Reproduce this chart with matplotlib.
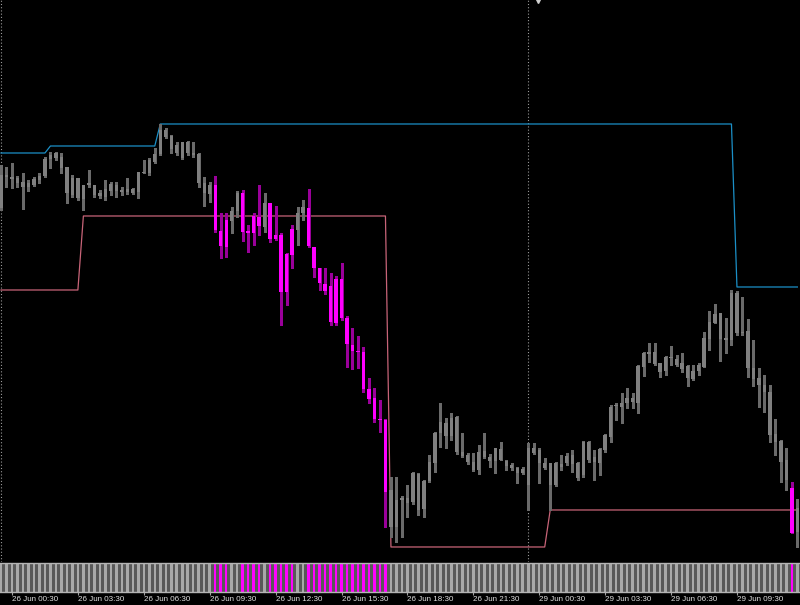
import numpy as np
import matplotlib.pyplot as plt

# price levels in points (15 min candles, 26 Jun 00:00 .. 29 Jun 12:15)
HIGH = [435, 433, 437, 424, 427, 420, 423, 427, 443, 448,
        448, 447, 433, 425, 422, 415, 430, 415, 410, 420,
        418, 418, 413, 422, 412, 428, 440, 442, 452, 476,
        472, 465, 458, 458, 459, 458, 447, 423, 418, 424,
        387, 387, 393, 409, 410, 375, 387, 415, 407, 397,
        394, 367, 347, 375, 393, 400, 411, 353, 332, 332,
        327, 324, 337, 284, 272, 264, 253, 222, 212, 200,
        181, 123, 123, 104, 115, 128, 127, 120, 145, 168,
        197, 182, 187, 184, 167, 147, 147, 155, 167, 146,
        152, 158, 140, 137, 133, 133, 157, 157, 152, 142,
        137, 138, 145, 147, 150, 138, 159, 159, 150, 152,
        166, 195, 197, 207, 212, 207, 235, 248, 257, 257,
        237, 244, 254, 245, 247, 235, 235, 237, 268, 289,
        296, 287, 282, 310, 309, 303, 281, 260, 232, 225,
        215, 181, 160, 152, 118, 101]
LOW = [390, 413, 412, 413, 391, 409, 414, 417, 423, 432,
       440, 427, 397, 403, 400, 390, 413, 403, 402, 400,
       405, 403, 405, 406, 406, 402, 427, 425, 437, 445,
       462, 447, 445, 441, 445, 443, 413, 394, 398, 368,
       342, 343, 367, 383, 359, 348, 355, 365, 368, 358,
       360, 275, 295, 332, 355, 380, 353, 323, 310, 306,
       275, 275, 280, 233, 231, 232, 208, 197, 178, 168,
       73, 63, 58, 63, 83, 96, 85, 83, 118, 128,
       153, 152, 160, 146, 143, 136, 129, 126, 142, 133,
       127, 140, 130, 130, 117, 126, 90, 146, 117, 131,
       90, 114, 130, 135, 128, 120, 123, 138, 120, 125,
       148, 158, 180, 177, 192, 192, 187, 224, 238, 235,
       223, 225, 235, 234, 228, 214, 220, 225, 233, 250,
       277, 239, 247, 255, 265, 265, 223, 214, 193, 188,
       158, 145, 118, 110, 67, 53]
BODY_TOP = [425, 425, 423, 422, 418, 417, 421, 424, 441, 445,
            447, 443, 433, 422, 422, 415, 417, 415, 407, 411,
            416, 415, 410, 411, 411, 428, 428, 440, 446, 470,
            470, 464, 455, 458, 458, 447, 446, 417, 415, 415,
            369, 380, 389, 407, 407, 369, 384, 383, 397, 397,
            365, 365, 346, 371, 387, 393, 392, 353, 332, 316,
            314, 321, 321, 282, 255, 249, 248, 211, 202, 181,
            180, 110, 100, 102, 102, 127, 126, 119, 138, 167,
            178, 177, 182, 183, 148, 145, 138, 148, 149, 143,
            152, 151, 139, 135, 132, 131, 152, 152, 150, 137,
            137, 137, 136, 144, 145, 137, 158, 158, 143, 151,
            165, 193, 195, 197, 202, 202, 234, 247, 248, 248,
            237, 243, 243, 241, 237, 234, 229, 235, 262, 278,
            286, 287, 262, 307, 307, 268, 269, 232, 222, 215,
            208, 166, 159, 140, 112, 92]
BODY_BOT = [392, 423, 421, 417, 413, 413, 415, 420, 424, 441,
            442, 432, 407, 405, 402, 401, 415, 405, 404, 403,
            409, 409, 408, 408, 407, 408, 427, 427, 438, 446,
            463, 451, 447, 442, 447, 445, 417, 407, 406, 370,
            354, 353, 379, 389, 368, 367, 367, 374, 373, 361,
            361, 308, 308, 345, 370, 387, 354, 332, 317, 309,
            278, 277, 282, 256, 249, 248, 211, 201, 181, 180,
            108, 73, 73, 100, 97, 98, 90, 91, 119, 137,
            167, 164, 164, 148, 144, 138, 130, 130, 143, 139,
            139, 140, 134, 132, 127, 127, 115, 147, 137, 132,
            115, 115, 133, 137, 136, 122, 125, 140, 138, 137,
            150, 163, 194, 193, 197, 198, 197, 233, 246, 236,
            228, 229, 242, 235, 231, 222, 221, 229, 233, 261,
            277, 261, 260, 260, 267, 267, 232, 221, 215, 208,
            165, 158, 138, 120, 67, 68]
# candles flagged by the indicator (magenta)
SIGNAL = [39, 40, 41, 44, 45, 46, 47, 49, 50, 51, 52, 53,
          56, 57, 58, 59, 60, 61, 62, 63, 64, 65, 66, 67, 68, 69, 70, 144]
# channel lines as (number of candles, level)
UPPER_RUNS = [(9, 447), (20, 454), (105, 476), (12, 313)]
LOWER_RUNS = [(15, 310), (56, 384), (29, 53), (46, 90)]
SEPARATORS = [0, 96]
TICK_POS = [2, 14, 26, 38, 50, 62, 74, 86, 98, 110, 122, 134]
TICK_LABELS = ['26 Jun 00:30', '26 Jun 03:30', '26 Jun 06:30', '26 Jun 09:30',
               '26 Jun 12:30', '26 Jun 15:30', '26 Jun 18:30', '26 Jun 21:30',
               '29 Jun 00:30', '29 Jun 03:30', '29 Jun 06:30', '29 Jun 09:30']

plt.rcParams['font.family'] = ['Liberation Sans', 'DejaVu Sans']

n = len(HIGH)
idx = np.arange(n)
flag = np.isin(idx, SIGNAL)
upper = np.repeat([v for _, v in UPPER_RUNS], [c for c, _ in UPPER_RUNS])
lower = np.repeat([v for _, v in LOWER_RUNS], [c for c, _ in LOWER_RUNS])
body_top = np.array(BODY_TOP)
body_bot = np.array(BODY_BOT)

fig = plt.figure(figsize=(8, 6.05), dpi=100, facecolor='black')
ax = fig.add_axes([0, 0.0711, 1, 0.9289], facecolor='black')
strip = fig.add_axes([0, 0.0223, 1, 0.0479], facecolor='#585858')

for s in SEPARATORS:
    ax.axvline(s, color='#9a9a9a', lw=0.8, ls=(0, (1, 1.9)), zorder=1)

ax.plot(idx, upper, color='#1b8fc6', lw=0.9, zorder=2)
ax.plot(idx, lower, color='#c86478', lw=0.9, zorder=2)

wick_col = np.where(flag, '#9a009a', '#6a6a6a')
body_col = np.where(flag, '#ff00ff', '#808080')
ax.vlines(idx, LOW, HIGH, colors=wick_col, lw=0.75, zorder=3,
          antialiased=False)
ax.bar(idx, body_top - body_bot, bottom=body_bot, width=0.6,
       color=body_col, lw=0, zorder=4, antialiased=False)

# chart shift marker
ax.plot(0.6725, 1.0, marker='v', ms=4, color='#d0d0d0',
        transform=ax.transAxes, clip_on=False)

ax.set_xlim(-0.182, 145.48)
ax.set_ylim(38, 600)
ax.set_xticks([])
ax.set_yticks([])
for sp in ax.spines.values():
    sp.set_visible(False)

strip.bar(idx, 1, width=0.46, color=np.where(flag, '#ff00ff', '#a8a8a8'),
          lw=0, antialiased=False)
strip.set_xlim(-0.182, 145.48)
strip.set_ylim(0, 1)
strip.set_yticks([])
for side in ['left', 'right']:
    strip.spines[side].set_visible(False)
for side in ['top', 'bottom']:
    strip.spines[side].set_color('#b4b4b4')
    strip.spines[side].set_linewidth(1)
strip.set_xticks(TICK_POS)
strip.set_xticklabels(TICK_LABELS, ha='left')
strip.tick_params(axis='x', length=2, color='#a0a0a0', labelcolor='#e0e0e0',
                  labelsize=5.8, pad=1.5)

fig.savefig('out.png', dpi=100, facecolor='black')
